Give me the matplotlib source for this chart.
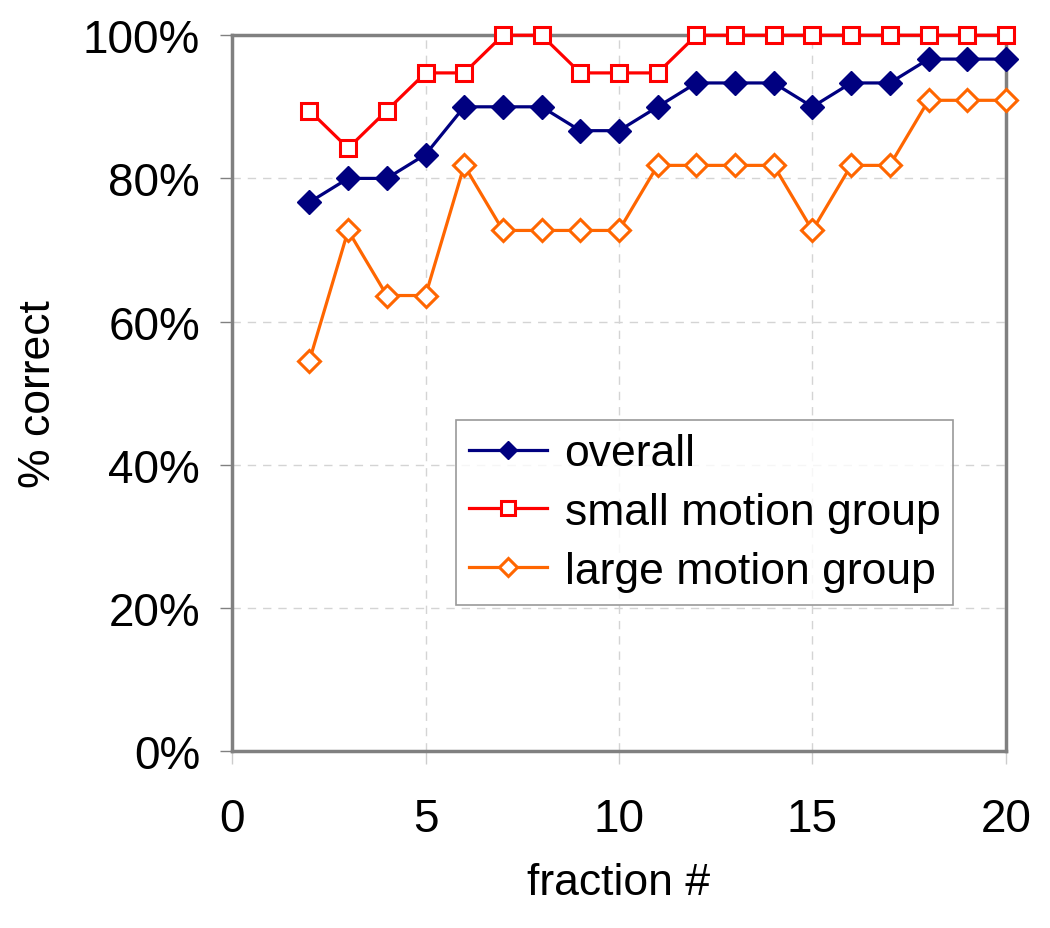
import numpy as np
import matplotlib.pyplot as plt
from matplotlib.ticker import PercentFormatter

plt.rcParams['font.family'] = ['Liberation Sans', 'DejaVu Sans']

fraction = [2, 3, 4, 5, 6, 7, 8, 9, 10, 11, 12, 13, 14, 15, 16, 17, 18, 19, 20]
# fraction of correct results per group
overall = [23, 24, 24, 25, 27, 27, 27, 26, 26, 27, 28, 28, 28, 27, 28, 28, 29, 29, 29]
small = [17, 16, 17, 18, 18, 19, 19, 18, 18, 18, 19, 19, 19, 19, 19, 19, 19, 19, 19]
large = [6, 8, 7, 7, 9, 8, 8, 8, 8, 9, 9, 9, 9, 8, 9, 9, 10, 10, 10]
n_overall, n_small, n_large = 30, 19, 11

overall = np.array(overall) / n_overall
small = np.array(small) / n_small
large = np.array(large) / n_large

fig = plt.figure(figsize=(10.5, 9.29), dpi=100)
ax = fig.add_axes([0.221, 0.1905, 0.737, 0.7705])

ax.plot(fraction, overall, color='#000080', lw=2.3, marker='D', ms=12,
        mfc='#000080', mec='#000080', label='overall', clip_on=False, zorder=5)
ax.plot(fraction, small, color='#FF0000', lw=2.3, marker='s', ms=11.5,
        mfc='white', mec='#FF0000', mew=2.2, label='small motion group', clip_on=False, zorder=5)
ax.plot(fraction, large, color='#FF6600', lw=2.3, marker='D', ms=11,
        mfc='white', mec='#FF6600', mew=2.2, label='large motion group', clip_on=False, zorder=5)

ax.set_xlim(0, 20)
ax.set_ylim(0, 1)
ax.set_xticks([0, 5, 10, 15, 20])
ax.set_yticks(np.arange(0, 1.01, 0.2))
ax.yaxis.set_major_formatter(PercentFormatter(1.0, decimals=0))

ax.grid(True, color='#d4d4d4', linestyle=(0, (6, 5)), lw=1)
ax.set_axisbelow(True)
for s in ax.spines.values():
    s.set_color('#808080')
    s.set_linewidth(2.5)

ax.tick_params(axis='y', length=9, width=1, color='#808080', labelsize=33, pad=14)
ax.tick_params(axis='x', length=9, width=1, color='#cccccc', labelsize=33, pad=24)

ax.set_xlabel('fraction #', fontsize=32, labelpad=15)
ax.set_ylabel('% correct', fontsize=32, labelpad=17)

leg = ax.legend(loc='lower left', bbox_to_anchor=(0.289, 0.204, 0.642, 0.264),
                mode='expand', fontsize=32, frameon=True, fancybox=False,
                edgecolor='#808080', handlelength=1.75, borderaxespad=0,
                labelspacing=0.4, handletextpad=0.4, borderpad=0.3)
leg.get_frame().set_linewidth(1.2)
for h in leg.legend_handles:
    h.set_markersize(9.5)

fig.savefig('out.png', dpi=100)
